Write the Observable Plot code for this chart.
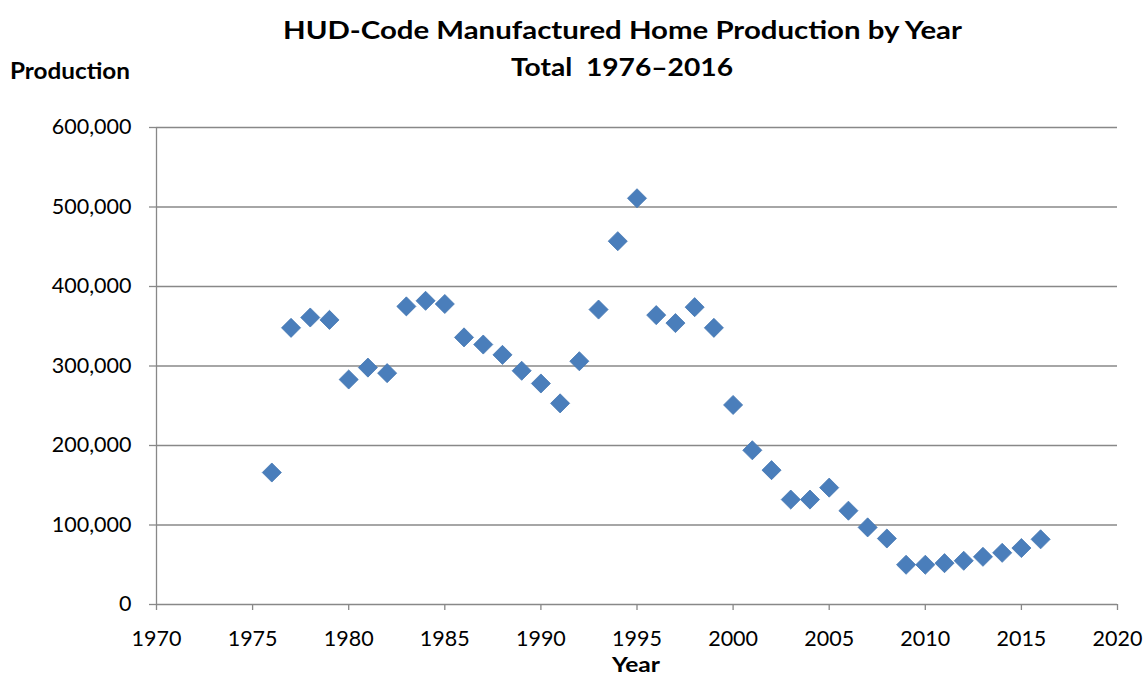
<!DOCTYPE html>
<html>
<head>
<meta charset="utf-8">
<script src="https://cdn.jsdelivr.net/npm/d3@7"></script>
<script src="https://cdn.jsdelivr.net/npm/@observablehq/plot@0.6"></script>
<style>
  html, body { margin: 0; padding: 0; background: #fff; }
  #wrap { position: relative; width: 1147px; height: 675px; font-family: Lato, "Open Sans", sans-serif; overflow: hidden; }
  .t { position: absolute; font-weight: bold; color: #000; white-space: pre; line-height: 1; transform-origin: 0 0; display: inline-block; }
  #title1 { left: 283px; top: 18px; font-size: 24px; }
  #title2 { left: 511px; top: 55px; font-size: 24px; }
  #ylab { left: 10px; top: 60px; font-size: 22px; }
  #xlab { left: 612px; top: 653px; font-size: 21px; }
  #chart { position: absolute; left: 0; top: 0; }
</style>
</head>
<body>
<div id="wrap">
  <div id="chart"></div>
  <span class="t" id="title1" data-w="679">HUD-Code Manufactured Home Production by Year</span>
  <span class="t" id="title2" data-w="222">Total  1976–2016</span>
  <span class="t" id="ylab" data-w="120">Production</span>
  <span class="t" id="xlab" data-w="48">Year</span>
</div>
<script>
const years = [1976,1977,1978,1979,1980,1981,1982,1983,1984,1985,1986,1987,1988,1989,1990,1991,1992,1993,1994,1995,1996,1997,1998,1999,2000,2001,2002,2003,2004,2005,2006,2007,2008,2009,2010,2011,2012,2013,2014,2015,2016];
const production = [166000,348000,361000,358000,283000,298000,291000,375000,382000,378000,336000,327000,314000,294000,278000,253000,306000,371000,457000,511000,364000,354000,374000,348000,251000,194000,169000,132000,132000,147000,118000,97000,83000,50000,50000,52000,55000,60000,65000,71000,82000];
const xTicks = [1970,1975,1980,1985,1990,1995,2000,2005,2010,2015,2020];
const yTicks = [0,100000,200000,300000,400000,500000,600000];

const data = years.map((y, i) => ({year: y, value: production[i]}));
const grid = "#888888";

const chart = Plot.plot({
  width: 1147,
  height: 675,
  marginLeft: 156,
  marginRight: 30,
  marginTop: 127,
  marginBottom: 71,
  style: { fontFamily: "Lato, 'Open Sans', sans-serif", fontSize: "21.5px", color: "#000", background: "#fff" },
  x: { domain: [1970, 2020], label: null },
  y: { domain: [0, 600000], label: null },
  marks: [
    Plot.ruleY(yTicks.filter(d => d > 0), { stroke: grid, strokeWidth: 1.3 }),
    Plot.ruleX([1970], { stroke: grid, strokeWidth: 1.3 }),
    Plot.ruleY([0], { stroke: grid, strokeWidth: 1.3 }),
    Plot.axisX({ ticks: xTicks, tickFormat: d => String(d), tickSize: 6, tickPadding: 20, stroke: grid, strokeWidth: 1.3, label: null }),
    Plot.axisY({ ticks: yTicks, tickFormat: d3.format(","), tickSize: 7, tickPadding: 18, stroke: grid, strokeWidth: 1.3, label: null }),
    Plot.dot(data, { x: "year", y: "value", symbol: "diamond2", r: 8.6, fill: "#4a7ebb", stroke: "#4577b3", strokeWidth: 0.8 })
  ]
});
document.getElementById("chart").appendChild(chart);

function fit() {
  document.querySelectorAll(".t[data-w]").forEach(el => {
    el.style.transform = "none";
    const w = el.getBoundingClientRect().width;
    const target = +el.dataset.w;
    if (w > 0) el.style.transform = `scaleX(${target / w})`;
  });
}
fit();
if (document.fonts && document.fonts.ready) document.fonts.ready.then(fit);
</script>
</body>
</html>
